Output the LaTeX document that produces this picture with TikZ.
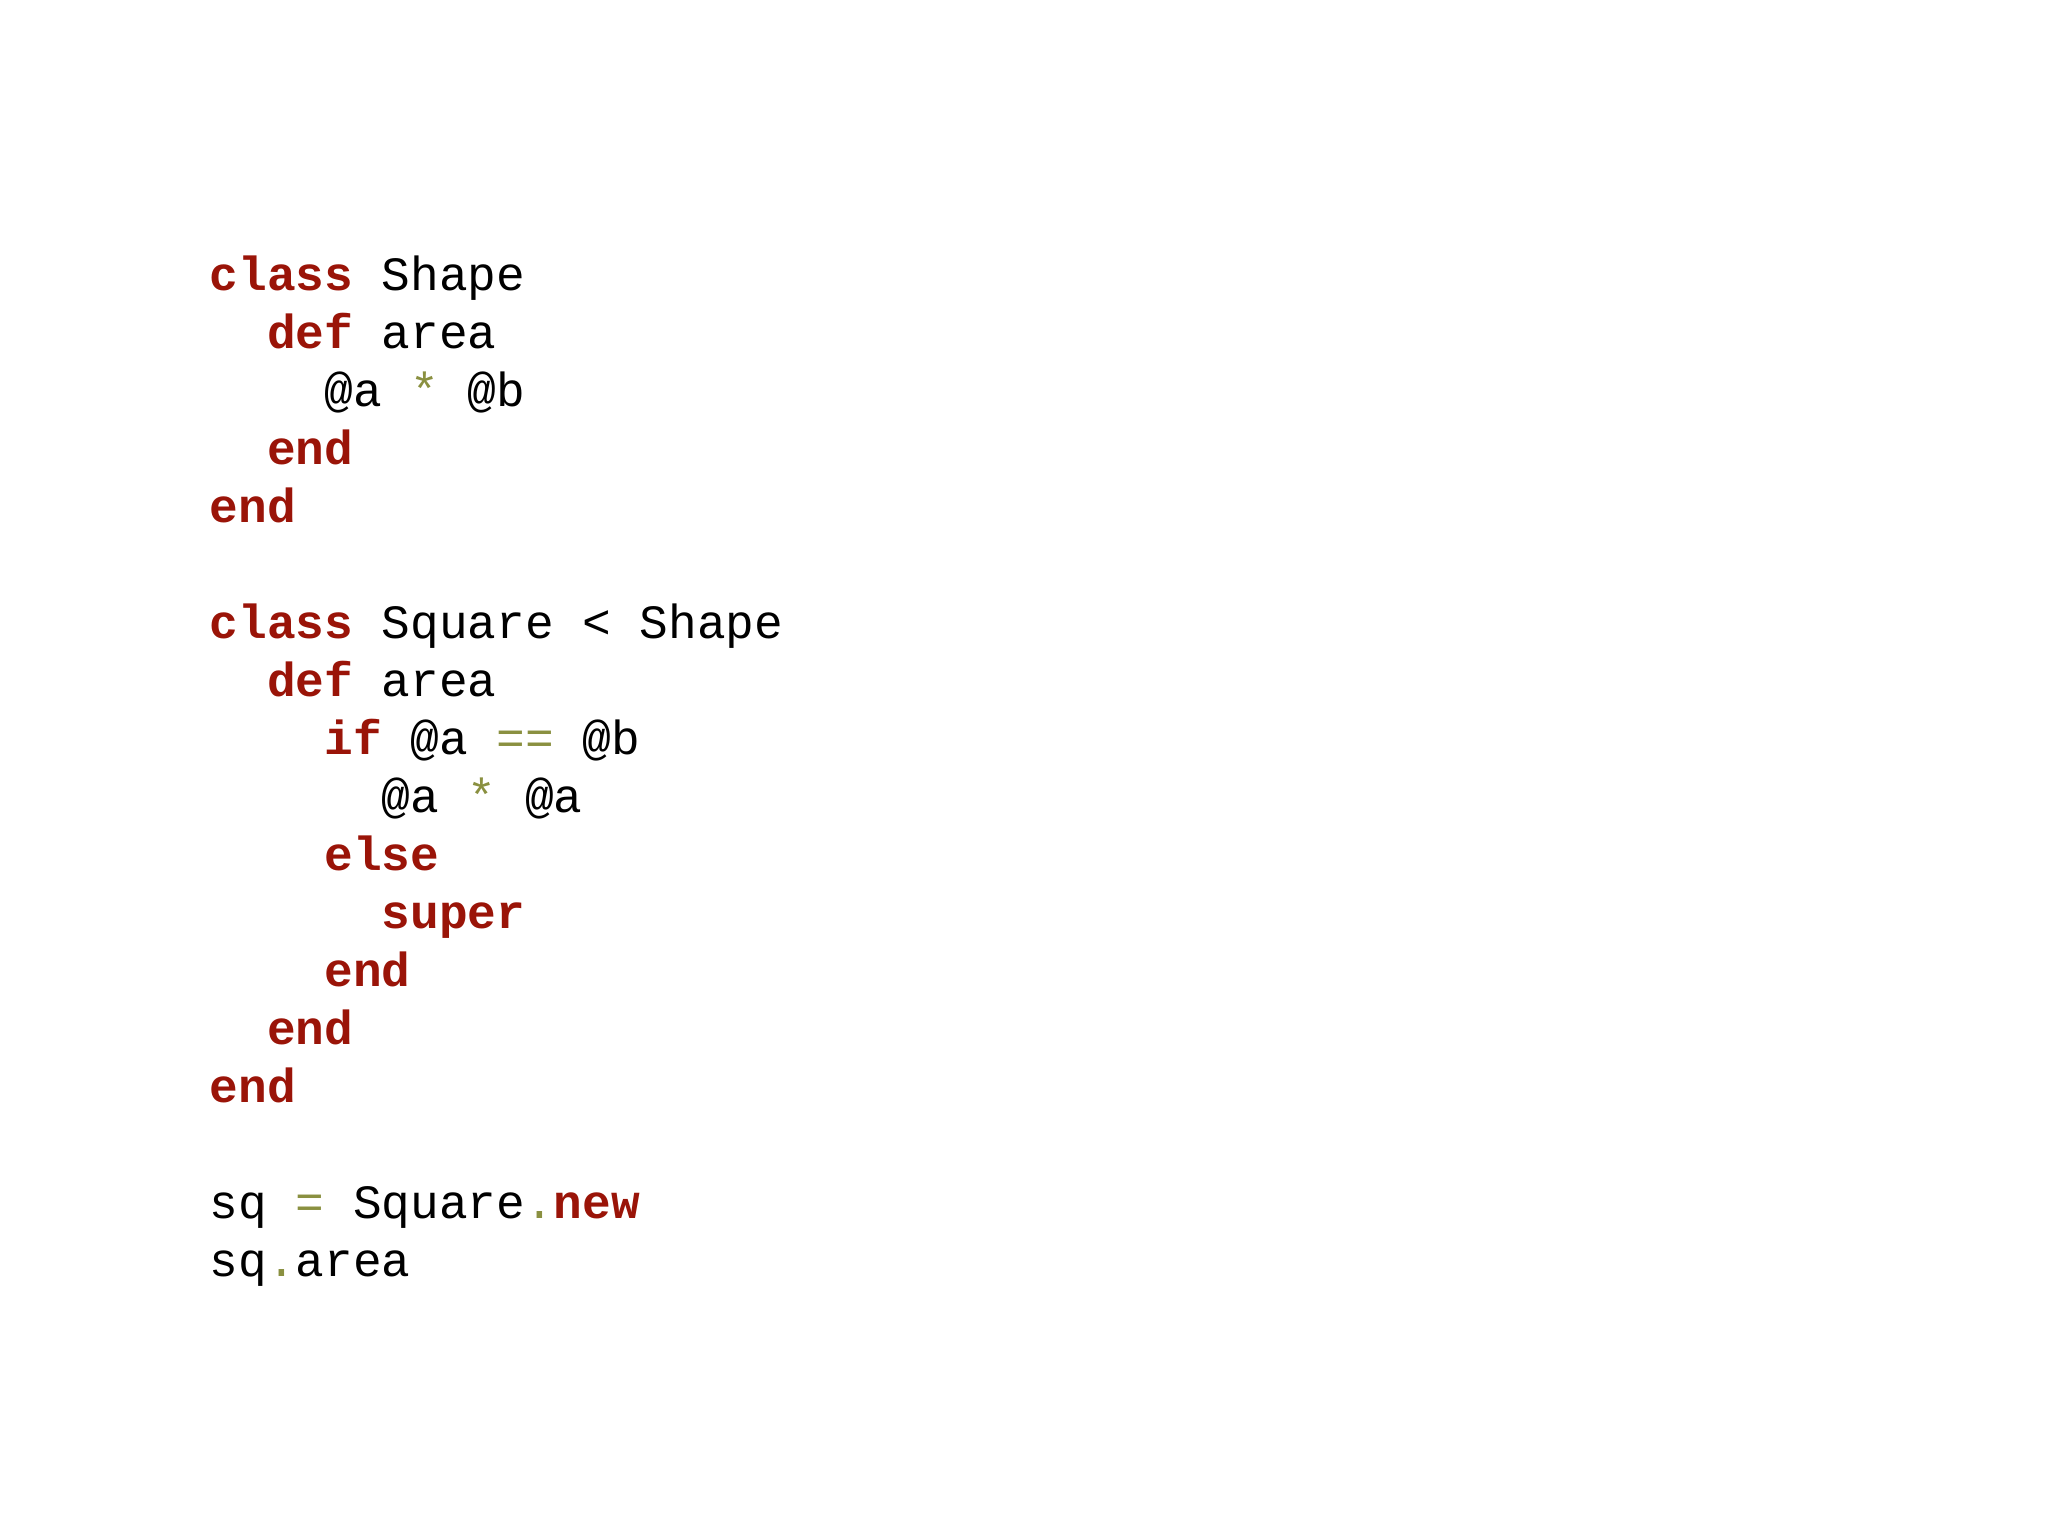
\documentclass[tikz,border=0pt]{standalone}
\usepackage{fontspec}
\setmonofont{Liberation Mono}
\definecolor{kw}{HTML}{9A1408}
\definecolor{op}{HTML}{8A9040}
\newcommand{\K}[1]{\textcolor{kw}{\textbf{#1}}}
\newcommand{\Op}[1]{\textcolor{op}{#1}}
\begin{document}
\begin{tikzpicture}
\fill[white] (0,0) rectangle (20.48,15.36);
\useasboundingbox (0,0) rectangle (20.48,15.36);
\tikzset{codeline/.style={anchor=base west,inner sep=0pt,font=\ttfamily\fontsize{13.6pt}{16pt}\selectfont}}
\def\lh{0.58}
\foreach \i/\t [count=\n] in {
0/{\K{class} Shape},
1/{\ \ \K{def} area},
2/{\ \ \ \ @a \Op{*} @b},
3/{\ \ \K{end}},
4/{\K{end}},
6/{\K{class} Square < Shape},
7/{\ \ \K{def} area},
8/{\ \ \ \ \K{if} @a \Op{==} @b},
9/{\ \ \ \ \ \ @a \Op{*} @a},
10/{\ \ \ \ \K{else}},
11/{\ \ \ \ \ \ \K{super}},
12/{\ \ \ \ \K{end}},
13/{\ \ \K{end}},
14/{\K{end}},
16/{sq \Op{=} Square\Op{.}\K{new}},
17/{sq\Op{.}area}}
{\node[codeline] (l\n) at (2.09,{12.58-0.13-\i*\lh}) {\obeyspaces\t};}
\end{tikzpicture}
\end{document}
